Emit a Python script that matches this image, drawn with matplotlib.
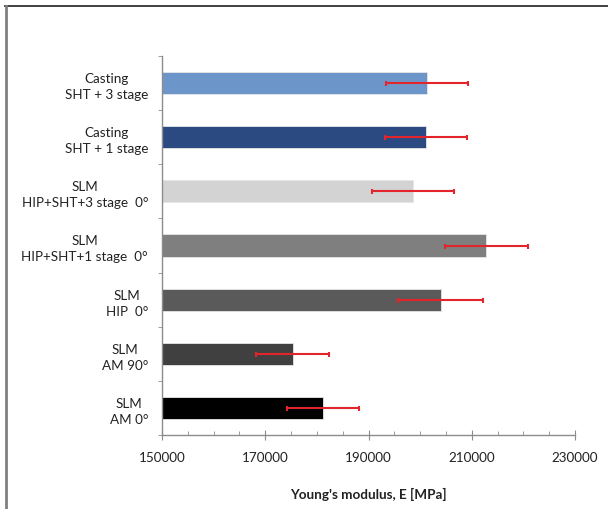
import numpy as np
import matplotlib
matplotlib.use('Agg')
import matplotlib.pyplot as plt
from matplotlib.lines import Line2D

# categories listed top to bottom as in the chart
labels = ['Casting\nSHT + 3 stage',
          'Casting\nSHT + 1 stage',
          'SLM\nHIP+SHT+3 stage  0°',
          'SLM\nHIP+SHT+1 stage  0°',
          'SLM\nHIP  0°',
          'SLM\nAM 90°',
          'SLM\nAM 0°']
modulus = [201300, 201100, 198600, 212800, 204000, 175300, 181200]
errors = [8000, 8000, 8000, 8000, 8200, 7100, 7000]
colors = ['#6C96CA', '#2C4A82', '#D3D3D3', '#7F7F7F', '#5A5A5A', '#404040', '#000000']

plt.rcParams['font.family'] = ['Lato', 'DejaVu Sans']

fig = plt.figure(figsize=(6.08, 5.10), dpi=100)
ax = fig.add_axes([162 / 608, 1 - 436 / 510, 413 / 608, 379 / 510])

y = np.arange(len(labels))
ax.barh(y, np.array(modulus) - 150000, left=150000, height=0.41,
        color=colors, edgecolor='#E6E6E6', linewidth=0.6, zorder=2)
ax.errorbar(modulus, y, xerr=errors, fmt='none', ecolor='#E3242B',
            elinewidth=1.5, capsize=1.8, capthick=1.5, zorder=3)

ax.set_xlim(150000, 230000)
ax.set_ylim(len(labels) - 0.5, -0.5)

ax.set_xticks(np.arange(150000, 230001, 20000))
ax.set_xticks(np.arange(150000, 230001, 5000), minor=True)
ax.set_yticks(y)
ax.set_yticklabels(labels)
ax.set_yticks(np.arange(-0.5, len(labels), 1), minor=True)
plt.setp(ax.get_yticklabels(), multialignment='center', linespacing=1.4)

for s in ['top', 'right']:
    ax.spines[s].set_visible(False)
for s in ['left', 'bottom']:
    ax.spines[s].set_color('#8C8C8C')
    ax.spines[s].set_linewidth(1.0)

ax.tick_params(axis='y', which='major', length=0, pad=10, labelsize=9.7, colors='#222222')
ax.tick_params(axis='y', which='minor', length=3, direction='out', color='#8C8C8C')
ax.tick_params(axis='x', which='major', length=7, direction='inout', pad=8,
               labelsize=9.7, color='#8C8C8C', labelcolor='#222222')
ax.tick_params(axis='x', which='minor', length=3, direction='in', color='#8C8C8C')

ax.set_xlabel("Young's modulus, E [MPa]", fontsize=9.7, fontweight='bold',
              color='#222222', labelpad=17)

# frame around the picture
fig.add_artist(Line2D([5 / 608, 1], [1 - 7 / 510, 1 - 7 / 510], color='#333333', lw=1.3))
fig.add_artist(Line2D([5.5 / 608, 5.5 / 608], [0, 1 - 7 / 510], color='#808080', lw=2))

fig.savefig('out.png', dpi=100)
